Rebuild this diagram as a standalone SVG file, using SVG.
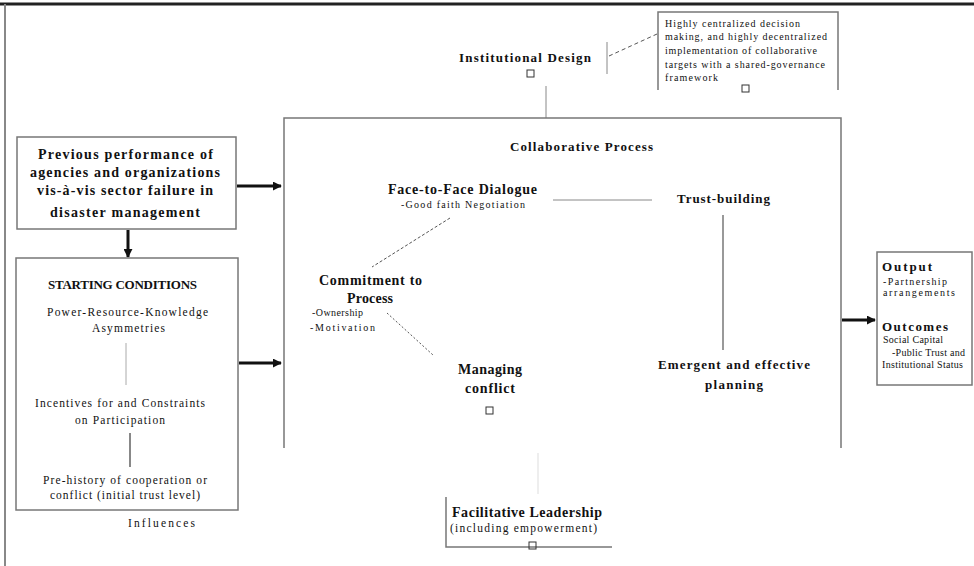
<svg xmlns="http://www.w3.org/2000/svg" width="974" height="566" viewBox="0 0 974 566">
<defs>
<marker id="ah" viewBox="0 0 10 10" refX="9" refY="5" markerWidth="3" markerHeight="3" orient="auto"><path d="M0,0 L10,5 L0,10 z" fill="#111"/></marker>
<style>
text{font-family:"Liberation Serif","Times New Roman",serif;fill:#111}
.b{font-weight:bold}
.t13{font-size:14px}
.t12{font-size:13px}
.t10{font-size:11.5px}
.t9{font-size:10px}
.box{fill:none;stroke:#777;stroke-width:1.5}
.thin{stroke:#888;stroke-width:1;fill:none}
.thick{stroke:#111;stroke-width:3;fill:none}
.icon{fill:none;stroke:#333;stroke-width:1}
</style>
</defs>
<rect width="974" height="566" fill="#fff"/>
<g id="frame">
<line x1="0" y1="4" x2="974" y2="4" stroke="#222" stroke-width="3"/>
<line x1="5" y1="4" x2="5" y2="566" stroke="#888" stroke-width="2"/>
</g>
<g id="connectors">
<line class="thick" x1="237" y1="186" x2="281" y2="186" marker-end="url(#ah)"/>
<line class="thick" x1="128" y1="230" x2="128" y2="257" marker-end="url(#ah)"/>
<line class="thick" x1="239" y1="363" x2="281" y2="363" marker-end="url(#ah)"/>
<line class="thick" x1="842" y1="320" x2="875" y2="320" marker-end="url(#ah)"/>
<line class="thin" x1="546" y1="86" x2="546" y2="118"/>
<line x1="607" y1="42" x2="607" y2="74" stroke="#888" stroke-width="1"/>
<line x1="609" y1="56" x2="657" y2="34" stroke="#555" stroke-width="1" stroke-dasharray="4,3"/>
<line class="thin" x1="553" y1="200" x2="652" y2="200"/>
<line x1="450" y1="218" x2="372" y2="267" stroke="#555" stroke-width="1" stroke-dasharray="3,2"/>
<line x1="387" y1="313" x2="433" y2="355" stroke="#555" stroke-width="1" stroke-dasharray="2,2"/>
<line x1="723" y1="215" x2="723" y2="350" stroke="#999" stroke-width="2"/>
<line x1="126" y1="343" x2="126" y2="385" stroke="#aaa" stroke-width="1"/>
<line x1="130" y1="433" x2="130" y2="467" stroke="#888" stroke-width="2"/>
<line x1="538" y1="453" x2="538" y2="494" stroke="#ddd" stroke-width="1"/>
</g>
<g id="institutional-design">
<text class="b t12" x="459" y="62" textLength="132">Institutional Design</text>
<rect class="icon" x="527" y="70" width="7" height="7"/>
</g>
<g id="note">
<path class="box" d="M658,90 V12 H838 V90"/>
<text class="t9" x="665" y="27" textLength="135">Highly centralized decision</text>
<text class="t9" x="665" y="40" textLength="162">making, and highly decentralized</text>
<text class="t9" x="665" y="54" textLength="152">implementation of collaborative</text>
<text class="t9" x="665" y="68" textLength="160">targets with a shared-governance</text>
<text class="t9" x="665" y="81" textLength="53">framework</text>
<rect class="icon" x="742" y="85" width="7" height="7"/>
</g>
<g id="previous-performance">
<rect class="box" x="17" y="137" width="219" height="92"/>
<text class="b t13" x="38" y="159" textLength="175">Previous performance of</text>
<text class="b t13" x="30" y="177" textLength="190">agencies and organizations</text>
<text class="b t13" x="37" y="195" textLength="176">vis-à-vis sector failure in</text>
<text class="b t13" x="50" y="217" textLength="150">disaster management</text>
</g>
<g id="starting-conditions">
<rect class="box" x="16" y="258" width="222" height="252"/>
<text class="b t12" x="48" y="289" textLength="149">STARTING CONDITIONS</text>
<text class="t10" x="47" y="316" textLength="161">Power-Resource-Knowledge</text>
<text class="t10" x="92" y="332" textLength="73">Asymmetries</text>
<text class="t10" x="35" y="407" textLength="170">Incentives for and Constraints</text>
<text class="t10" x="75" y="424" textLength="90">on Participation</text>
<text class="t10" x="43" y="484" textLength="164">Pre-history of cooperation or</text>
<text class="t10" x="50" y="499" textLength="150">conflict (initial trust level)</text>
<text class="t10" x="128" y="527" textLength="67">Influences</text>
</g>
<g id="collaborative-process">
<path class="box" d="M284,448 V118 H841 V448"/>
<text class="b t12" x="510" y="151" textLength="143">Collaborative Process</text>
</g>
<g id="face-to-face">
<text class="b t13" x="388" y="194" textLength="149">Face-to-Face Dialogue</text>
<text class="t9" x="401" y="208" textLength="124">-Good faith Negotiation</text>
</g>
<g id="trust-building">
<text class="b t12" x="677" y="203" textLength="93">Trust-building</text>
</g>
<g id="commitment">
<text class="b t13" x="319" y="285" textLength="103">Commitment to</text>
<text class="b t13" x="347" y="303" textLength="46">Process</text>
<text class="t9" x="312" y="316" textLength="51">-Ownership</text>
<text class="t9" x="310" y="331" textLength="65">-Motivation</text>
</g>
<g id="managing-conflict">
<text class="b t13" x="458" y="374" textLength="64">Managing</text>
<text class="b t13" x="465" y="393" textLength="50">conflict</text>
<rect class="icon" x="486" y="407" width="7" height="7"/>
</g>
<g id="planning">
<text class="b t12" x="658" y="369" textLength="152">Emergent and effective</text>
<text class="b t12" x="705" y="389" textLength="58">planning</text>
</g>
<g id="facilitative-leadership">
<path class="box" d="M446,497 V547 H612"/>
<text class="b t13" x="452" y="517" textLength="150">Facilitative Leadership</text>
<text class="t10" x="450" y="532" textLength="147">(including empowerment)</text>
<rect class="icon" x="529" y="542" width="7" height="7"/>
</g>
<g id="output">
<rect class="box" x="877" y="252" width="95" height="133"/>
<text class="b t12" x="882" y="271" textLength="50">Output</text>
<text class="t9" x="883" y="285" textLength="64">-Partnership</text>
<text class="t9" x="883" y="296" textLength="72">arrangements</text>
<text class="b t12" x="882" y="331" textLength="66">Outcomes</text>
<text class="t9" x="883" y="343" textLength="60">Social Capital</text>
<text class="t9" x="892" y="356" textLength="73">-Public Trust and</text>
<text class="t9" x="882" y="368" textLength="81">Institutional Status</text>
</g>
</svg>
